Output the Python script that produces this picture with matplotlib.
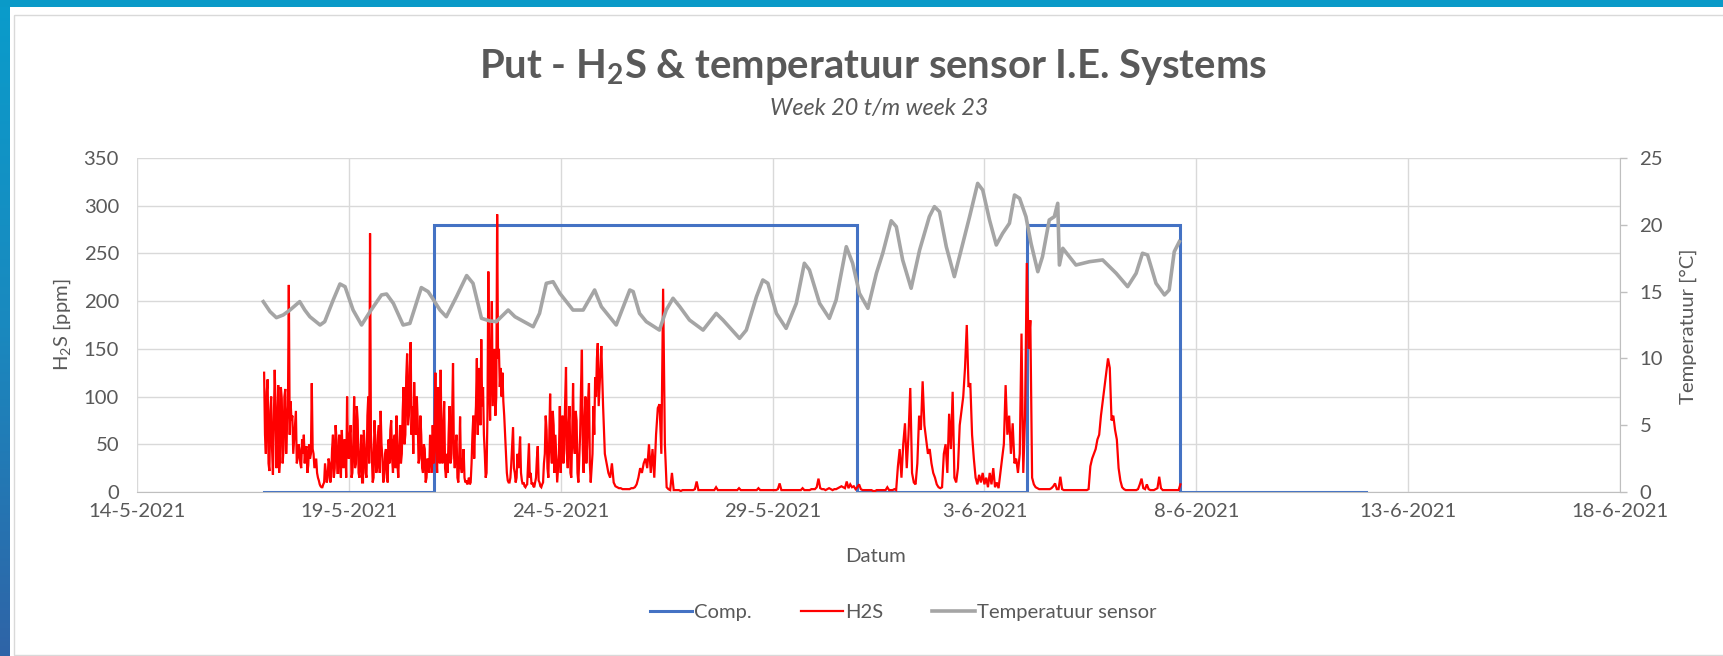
import matplotlib
matplotlib.use("Agg")
import matplotlib.pyplot as plt
import numpy as np
import pandas as pd
from matplotlib.colors import LinearSegmentedColormap
from matplotlib.patches import Rectangle

# ---------------- data ----------------
x_tick_dates = ["2021-05-14", "2021-05-19", "2021-05-24", "2021-05-29",
                "2021-06-03", "2021-06-08", "2021-06-13", "2021-06-18"]
x_tick_labels = ["14-5-2021", "19-5-2021", "24-5-2021", "29-5-2021",
                 "3-6-2021", "8-6-2021", "13-6-2021", "18-6-2021"]
h2s_ticks = [0, 50, 100, 150, 200, 250, 300, 350]
temp_ticks = [0, 5, 10, 15, 20, 25]

comp_times = ["2021-05-17 00:00", "2021-05-21 00:00", "2021-05-31 00:00",
              "2021-06-04 00:00", "2021-06-07 15:00", "2021-06-12 00:00"]
comp_values = [0, 280, 0, 280, 0, 0]

# H2S readings, part 1: every 30 minutes from 17-5 00:00
h2s_start_a = "2021-05-17 00:00"
h2s_ppm_a = [
    125, 60, 40, 105, 118, 30, 22, 85, 100, 45, 18, 70, 128, 90, 25, 60, 112, 20, 35, 110, 98, 30, 45, 100,
    108, 40, 70, 90, 217, 60, 95, 75, 80, 40, 55, 70, 85, 30, 35, 50, 45, 30, 25, 55, 40, 60, 30, 45,          # 17-5
    48, 20, 28, 50, 35, 40, 114, 45, 40, 25, 30, 35, 20, 15, 12, 8, 6, 5, 5, 8, 10, 30, 20, 10,
    15, 35, 30, 10, 18, 45, 60, 15, 25, 70, 55, 20, 20, 60, 50, 15, 65, 40, 25, 55, 45, 15, 100, 40,          # 18-5
    35, 60, 70, 15, 20, 50, 100, 25, 30, 90, 75, 20, 15, 40, 60, 10, 10, 65, 45, 20, 15, 80, 100, 30,
    271, 60, 40, 10, 15, 75, 55, 20, 25, 60, 70, 20, 85, 50, 35, 10, 15, 40, 45, 20, 10, 55, 30, 65,          # 19-5
    75, 35, 20, 55, 60, 25, 80, 30, 15, 45, 70, 30, 40, 85, 110, 50, 60, 120, 145, 70, 80, 130, 157, 60,
    90, 40, 115, 70, 60, 100, 75, 30, 35, 80, 60, 25, 20, 50, 45, 10, 15, 35, 30, 20, 60, 40, 20, 70,         # 20-5
    30, 60, 125, 40, 20, 110, 80, 30, 128, 50, 30, 70, 95, 25, 15, 40, 20, 60, 90, 30, 35, 80, 135, 40,
    25, 50, 60, 15, 10, 35, 79, 25, 20, 30, 45, 15, 10, 12, 8, 10, 15, 8, 10, 30, 60, 80, 35, 70,             # 21-5
    90, 140, 60, 100, 130, 70, 160, 90, 110, 60, 40, 15, 20, 80, 231, 120, 75, 150, 200, 90, 120, 150, 80, 100,
    291, 140, 150, 110, 130, 100, 125, 95, 80, 60, 40, 20, 12, 10, 10, 15, 30, 50, 68, 25, 20, 10, 15, 40,    # 22-5
    25, 40, 58, 20, 12, 8, 10, 6, 5, 7, 8, 30, 51, 15, 20, 8, 10, 6, 5, 10, 15, 35, 48, 12,
    10, 6, 5, 8, 10, 30, 40, 80, 65, 25, 15, 55, 103, 45, 30, 85, 70, 20, 60, 35, 10, 25, 40, 90,             # 23-5
    20, 55, 80, 30, 45, 95, 131, 40, 25, 70, 90, 20, 15, 60, 114, 50, 40, 85, 75, 20, 10, 35, 60, 110,
    149, 45, 20, 75, 100, 30, 50, 95, 114, 30, 10, 25, 40, 90, 60, 120, 100, 140, 156, 90, 110, 130, 153, 120,  # 24-5
]

# H2S readings, part 2: hourly from 25-5 00:00
h2s_start_b = "2021-05-25 00:00"
h2s_ppm_b = [
    90, 40, 30, 20, 15, 30, 10, 6, 5, 4, 4, 3, 3, 3, 3, 3, 4, 4, 5, 8, 15, 25, 20, 30,                       # 25-5
    35, 25, 50, 20, 45, 15, 60, 88, 92, 40, 213, 50, 5, 3, 2, 20, 2, 2, 2, 2, 1, 2, 2, 2,                    # 26-5
    2, 2, 2, 2, 3, 11, 2, 2, 2, 2, 2, 2, 2, 2, 2, 2, 5, 2, 2, 2, 2, 2, 2, 2,                                 # 27-5
    2, 2, 2, 2, 2, 4, 2, 2, 2, 2, 2, 2, 2, 2, 2, 2, 4, 2, 2, 2, 2, 2, 2, 2,                                  # 28-5
    2, 2, 2, 3, 9, 2, 2, 2, 2, 2, 2, 2, 2, 2, 2, 2, 2, 4, 2, 2, 2, 2, 3, 3,                                  # 29-5
    3, 5, 14, 4, 3, 3, 2, 3, 4, 3, 2, 3, 3, 4, 5, 6, 5, 4, 11, 4, 8, 5, 6, 3,                                # 30-5
    5, 8, 3, 2, 2, 2, 2, 2, 2, 1, 1, 2, 2, 2, 2, 2, 2, 5, 2, 2, 2, 3, 2, 27,                                 # 31-5
    45, 15, 50, 72, 25, 60, 109, 20, 10, 8, 30, 80, 65, 116, 70, 55, 40, 45, 30, 20, 15, 8, 5, 4,            # 1-6
    5, 40, 50, 20, 82, 45, 105, 15, 10, 25, 70, 85, 100, 130, 175, 110, 114, 60, 35, 15, 8, 18, 10, 20,      # 2-6
    8, 15, 5, 20, 8, 25, 5, 10, 4, 20, 35, 50, 112, 60, 80, 40, 72, 30, 35, 20, 40, 166, 20, 80,             # 3-6
    240, 150, 180, 15, 8, 5, 4, 3, 3, 3, 3, 3, 3, 3, 4, 6, 9, 3, 3, 16, 3, 2, 2, 2,                          # 4-6
    2, 2, 2, 2, 2, 2, 2, 2, 2, 2, 2, 3, 27, 35, 40, 45, 55, 60, 80, 95, 110, 125, 140, 130,                  # 5-6
    75, 80, 65, 55, 25, 12, 5, 3, 2, 2, 2, 2, 2, 2, 2, 3, 8, 14, 4, 3, 8, 3, 2, 2,                           # 6-6
    2, 3, 4, 16, 4, 2, 2, 2, 2, 2, 2, 2, 2, 2, 2, 8,                                                         # 7-6
]

temp_base = "2021-05-14"   # temperature readings: days after base
temp_day = [2.98, 3.14, 3.29, 3.45, 3.61, 3.84, 3.96, 4.08, 4.32, 4.43, 4.63, 4.79, 4.91,
            5.10, 5.30, 5.50, 5.77, 5.89, 6.05, 6.28, 6.44, 6.71, 6.87, 6.95, 7.15, 7.30,
            7.54, 7.78, 7.93, 8.13, 8.33, 8.48, 8.76, 8.92, 9.35, 9.50, 9.66, 9.82, 9.98,
            10.29, 10.53, 10.80, 10.96, 11.31, 11.63, 11.71, 11.86, 12.02, 12.33, 12.49,
            12.65, 12.81, 13.04, 13.36, 13.67, 13.83, 14.22, 14.38, 14.62, 14.77, 14.89,
            15.09, 15.32, 15.56, 15.75, 15.87, 16.11, 16.34, 16.50, 16.74, 16.89, 17.05,
            17.25, 17.45, 17.60, 17.80, 17.92, 18.07, 18.27, 18.47, 18.70, 18.82, 18.94,
            19.10, 19.29, 19.49, 19.65, 19.84, 19.96, 20.12, 20.28, 20.43, 20.59, 20.71,
            20.83, 20.98, 21.10, 21.26, 21.37, 21.53, 21.65, 21.73, 21.77, 21.85, 22.16,
            22.48, 22.79, 23.11, 23.38, 23.58, 23.73, 23.85, 24.05, 24.25, 24.36, 24.48, 24.60]
temp_c = [14.25, 13.5, 13.05, 13.25, 13.62, 14.25, 13.62, 13.12, 12.5, 12.75, 14.37, 15.57, 15.37,
          13.62, 12.5, 13.5, 14.75, 14.82, 14.12, 12.5, 12.62, 15.3, 15.0, 14.62, 13.62, 13.12,
          14.62, 16.2, 15.62, 13.0, 12.8, 12.75, 13.62, 13.12, 12.37, 13.37, 15.62, 15.74, 14.87,
          13.62, 13.62, 15.12, 13.87, 12.5, 15.12, 15.0, 13.37, 12.75, 12.12, 13.62,
          14.5, 13.87, 12.87, 12.12, 13.37, 12.87, 11.5, 12.12, 14.62, 15.87, 15.62,
          13.37, 12.25, 14.12, 17.12, 16.62, 14.12, 13.0, 14.37, 18.36, 17.12, 14.87,
          13.75, 16.37, 17.87, 20.3, 19.86, 17.37, 15.25, 18.11, 20.61, 21.36, 20.98,
          18.36, 16.12, 18.61, 20.61, 23.1, 22.6, 20.36, 18.49, 19.36, 20.11, 22.23,
          21.98, 20.61, 18.61, 16.49, 17.61, 20.36, 20.61, 21.61, 16.99, 18.24, 16.99,
          17.24, 17.37, 16.37, 15.37, 16.37, 17.87, 17.74, 15.62, 14.75, 15.12, 17.99, 18.74]

series_names = ["Comp.", "H2S", "Temperatuur sensor"]

# ---------------- style ----------------
plt.rcParams['font.family'] = ['Lato', 'DejaVu Sans']
plt.rcParams['mathtext.fontset'] = 'custom'
plt.rcParams['mathtext.rm'] = 'Lato'
plt.rcParams['mathtext.it'] = 'Lato:italic'
plt.rcParams['mathtext.bf'] = 'Lato:bold'

TXT = '#595959'
FS = 14.6
W, H = 1724, 656
fig = plt.figure(figsize=(W / 100, H / 100), dpi=100)
fig.patch.set_facecolor('white')

# background frame
bg = fig.add_axes([0, 0, 1, 1], zorder=-10)
bg.axis('off')
grad = np.linspace(0, 1, 256).reshape(-1, 1)
cmap = LinearSegmentedColormap.from_list('frame', ['#0a9ccb', '#1a89bf', '#2f64a7'])
bg.imshow(grad, cmap=cmap, extent=[0, 10, H, 0], aspect='auto')
bg.add_patch(Rectangle((0, 0), W, 6.5, color='#0a9ac8', lw=0))
bg.add_patch(Rectangle((14.5, 14.5), W, H - 16, fill=False, ec='#d9d9d9', lw=1))
bg.set_xlim(0, W)
bg.set_ylim(H, 0)


def frac(x0, y0, x1, y1):
    return [x0 / W, 1 - y1 / H, (x1 - x0) / W, (y1 - y0) / H]


ax = fig.add_axes(frac(137, 158, 1620, 492))
ax2 = ax.twinx()

h2s_times = pd.date_range(h2s_start_a, periods=len(h2s_ppm_a), freq='30min').append(
    pd.date_range(h2s_start_b, periods=len(h2s_ppm_b), freq='h'))
h2s_ppm = h2s_ppm_a + h2s_ppm_b

l_comp, = ax.plot(pd.to_datetime(comp_times), comp_values, drawstyle='steps-post',
                  color='#4472C4', lw=2.2, solid_joinstyle='miter')
l_h2s, = ax.plot(h2s_times, h2s_ppm, color='#FF0000', lw=1.6, solid_joinstyle='miter')
l_temp, = ax2.plot(pd.Timestamp(temp_base) + pd.to_timedelta(temp_day, unit='D'), temp_c,
                   color='#A5A5A5', lw=2.6)

ax.set_xlim(pd.Timestamp("2021-05-14"), pd.Timestamp("2021-06-18"))
ax.set_ylim(0, 350)
ax2.set_ylim(0, 25)
ax.set_xticks(pd.to_datetime(x_tick_dates))
ax.set_xticklabels(x_tick_labels)
ax.set_yticks(h2s_ticks)
ax2.set_yticks(temp_ticks)

ax.grid(True, color='#d9d9d9', lw=1.0)
ax.set_axisbelow(True)
for s in ['top', 'left', 'right']:
    ax.spines[s].set_visible(False)
ax.spines['bottom'].set_color('#bfbfbf')
for s in ['top', 'left', 'bottom']:
    ax2.spines[s].set_visible(False)
ax2.spines['right'].set_color('#bfbfbf')

ax.tick_params(axis='x', length=0, pad=8, labelsize=FS, labelcolor=TXT)
ax.tick_params(axis='y', length=0, pad=13, labelsize=FS, labelcolor=TXT)
ax2.tick_params(axis='y', length=5, width=1, color='#bfbfbf', pad=9, labelsize=FS, labelcolor=TXT)

fig.text(62 / W, 1 - 325 / H, 'H$_2$S [ppm]', rotation=90, ha='center', va='center',
         fontsize=FS, color=TXT)
fig.text(1688 / W, 1 - 326 / H, 'Temperatuur [°C]', rotation=90, ha='center', va='center',
         fontsize=FS, color=TXT)
fig.text(876 / W, 1 - 557 / H, 'Datum', ha='center', va='center', fontsize=FS, color=TXT)

fig.text(873 / W, 1 - 67 / H, r'Put - H$_\mathbf{2}$S & temperatuur sensor I.E. Systems',
         ha='center', va='center', fontsize=28.8, fontweight='bold', color=TXT)
fig.text(879 / W, 1 - 108 / H, 'Week 20 t/m week 23', ha='center', va='center',
         fontsize=16.8, style='italic', color=TXT)

fig.legend([l_comp, l_h2s, l_temp], series_names, loc='center',
           bbox_to_anchor=(903 / W, 1 - 612 / H), ncol=3, frameon=False, fontsize=FS,
           handlelength=2.1, handletextpad=0.1, columnspacing=2.4, labelcolor=TXT)

fig.savefig('out.png', dpi=100, facecolor='white')
